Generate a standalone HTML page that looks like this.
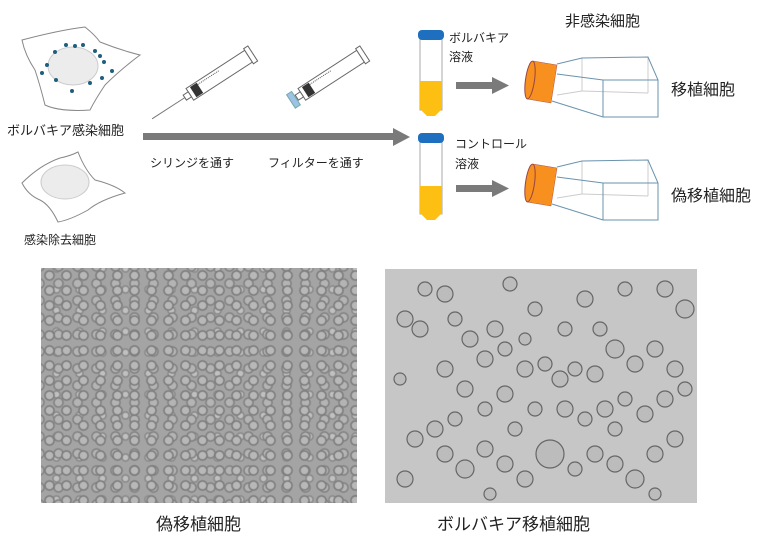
<!DOCTYPE html>
<html><head><meta charset="utf-8"><style>
body{margin:0;width:767px;height:546px;background:#fff;position:relative;overflow:hidden;font-family:"Liberation Sans","Noto Sans CJK JP",sans-serif;color:#222}
.t{position:absolute;white-space:nowrap;line-height:1}
.m1{position:absolute;left:41px;top:268px;width:316px;height:235px;background-color:#a4a4a4;
background-image:radial-gradient(circle at 50% 50%,#b8b8b8 0 3px,#7a7a7a 4.5px,transparent 6px),radial-gradient(circle at 50% 50%,#b4b4b4 0 3px,#808080 4.5px,transparent 6px),radial-gradient(circle at 50% 50%,#c0c0c0 0 2px,#888 3.5px,transparent 5px);
background-size:17px 15px,19px 17px,23px 21px;background-position:0 0,8px 7px,4px 11px}
.m2{position:absolute;left:385px;top:269px;width:312px;height:234px;background:#c6c6c6}
</style></head><body>
<svg width="767" height="546" style="position:absolute;left:0;top:0">
<path d="M22,40 Q60,30 85,27 Q95,35 100,42 Q120,50 140,55 Q120,70 105,85 Q95,100 90,110 Q60,112 45,105 Q40,85 35,70 Q25,55 22,40Z" fill="#fff" stroke="#888" stroke-width="1"/>
<ellipse cx="73" cy="66" rx="25" ry="19" fill="#ececec" stroke="#ccc"/>
<g fill="#1f5f7e"><circle cx="66" cy="45" r="2"/><circle cx="75" cy="46" r="2"/><circle cx="83" cy="45" r="2"/><circle cx="95" cy="51" r="2"/><circle cx="55" cy="52" r="2"/><circle cx="47" cy="65" r="2"/><circle cx="100" cy="56" r="2"/><circle cx="104" cy="62" r="2"/><circle cx="112" cy="71" r="2"/><circle cx="42" cy="73" r="2"/><circle cx="56" cy="80" r="2"/><circle cx="90" cy="83" r="2"/><circle cx="102" cy="78" r="2"/><circle cx="72" cy="91" r="2"/></g>
<path d="M22,183 Q40,165 60,158 Q70,156 78,152 Q85,170 95,180 Q115,185 125,193 Q100,200 88,210 Q70,220 58,222 Q50,205 40,200 Q28,195 22,183Z" fill="#fff" stroke="#888"/>
<ellipse cx="65" cy="182" rx="24" ry="17" fill="#ececec" stroke="#ccc"/>
<rect x="143" y="133" width="253" height="7" fill="#7a7a7a"/><polygon points="393,128 410,137 393,146" fill="#7a7a7a"/>
<g transform="translate(215,78) rotate(-33)"><rect x="-30" y="-7" width="70" height="14" fill="#fff" stroke="#666"/><rect x="-26" y="-6" width="8" height="12" fill="#333"/><rect x="40" y="-9" width="5" height="18" fill="#fff" stroke="#666"/><rect x="-36" y="-3" width="6" height="6" fill="#fff" stroke="#666"/><line x1="-36" y1="0" x2="-75" y2="0" stroke="#777"/><line x1="-18" y1="-4" x2="8" y2="-4" stroke="#555" stroke-dasharray="1 1"/></g>
<g transform="translate(327,78) rotate(-33)"><rect x="-30" y="-7" width="70" height="14" fill="#fff" stroke="#666"/><rect x="-26" y="-6" width="8" height="12" fill="#333"/><rect x="40" y="-9" width="5" height="18" fill="#fff" stroke="#666"/><rect x="-36" y="-3" width="6" height="6" fill="#fff" stroke="#666"/><rect x="-43" y="-8" width="6" height="16" fill="#9cc3e6" stroke="#7aa"/><line x1="-18" y1="-4" x2="8" y2="-4" stroke="#555" stroke-dasharray="1 1"/></g>
<g><rect x="420" y="36" width="22" height="74" fill="#fff" stroke="#aaa"/><rect x="420" y="81" width="22" height="28" fill="#fdbf12"/><polygon points="420,109 442,109 435,116 427,116" fill="#fdbf12"/><rect x="418" y="30" width="26" height="10" rx="4" fill="#1e6fbf"/></g>
<g><rect x="420" y="140" width="22" height="74" fill="#fff" stroke="#aaa"/><rect x="420" y="186" width="22" height="28" fill="#fdbf12"/><polygon points="420,213 442,213 435,220 427,220" fill="#fdbf12"/><rect x="418" y="133" width="26" height="10" rx="4" fill="#1e6fbf"/></g>
<rect x="456" y="82" width="37" height="7" fill="#7a7a7a"/><polygon points="492,77 509,85.5 492,94" fill="#7a7a7a"/>
<rect x="456" y="185" width="37" height="7" fill="#7a7a7a"/><polygon points="492,180 509,188.5 492,197" fill="#7a7a7a"/>
<g id="fl">
<g fill="none" stroke="#ccc" stroke-width="1"><line x1="582" y1="58" x2="582" y2="91"/><line x1="582" y1="91" x2="648" y2="93"/><line x1="648" y1="57" x2="648" y2="93"/><line x1="557" y1="95" x2="582" y2="91"/></g>
<g fill="none" stroke="#6a93ad" stroke-width="1"><polyline points="557,64 582,58 648,57 658,80 658,117 603,117 552,101"/><polyline points="557,74 603,80 658,80"/><line x1="603" y1="80" x2="603" y2="117"/></g>
<polygon points="533,61 557,65 551,103 527,99" fill="#f7901e" stroke="#a55" stroke-width=".5"/><ellipse cx="530" cy="80" rx="4.5" ry="19" transform="rotate(8 530 80)" fill="#f7901e" stroke="#944"/>
</g>
<use href="#fl" transform="translate(0,103)"/>
</svg>
<div class="t" style="left:7px;top:124px;font-size:13px">ボルバキア感染細胞</div>
<div class="t" style="left:24px;top:234px;font-size:12px">感染除去細胞</div>
<div class="t" style="left:150px;top:157px;font-size:12px">シリンジを通す</div>
<div class="t" style="left:268px;top:157px;font-size:12px">フィルターを通す</div>
<div class="t" style="left:449px;top:32px;font-size:12px">ボルバキア</div>
<div class="t" style="left:449px;top:51px;font-size:12px">溶液</div>
<div class="t" style="left:455px;top:138px;font-size:12px">コントロール</div>
<div class="t" style="left:455px;top:158px;font-size:12px">溶液</div>
<div class="t" style="left:565px;top:14px;font-size:15px">非感染細胞</div>
<div class="t" style="left:671px;top:83px;font-size:16px">移植細胞</div>
<div class="t" style="left:671px;top:189px;font-size:16px">偽移植細胞</div>
<div class="m1"></div>
<div class="m2"><svg width="312" height="234"><g fill="#bcbcbc" stroke="#666" stroke-width="1.2">
<circle cx="20" cy="50" r="8"/><circle cx="35" cy="60" r="8"/><circle cx="15" cy="110" r="6"/><circle cx="60" cy="25" r="8"/><circle cx="70" cy="50" r="7"/><circle cx="85" cy="70" r="8"/><circle cx="100" cy="90" r="8"/><circle cx="120" cy="80" r="7"/><circle cx="140" cy="100" r="8"/><circle cx="160" cy="95" r="7"/><circle cx="175" cy="110" r="8"/><circle cx="190" cy="100" r="7"/><circle cx="210" cy="105" r="8"/><circle cx="230" cy="80" r="9"/><circle cx="250" cy="95" r="8"/><circle cx="270" cy="80" r="8"/><circle cx="290" cy="100" r="8"/><circle cx="300" cy="120" r="7"/><circle cx="280" cy="130" r="8"/><circle cx="260" cy="145" r="8"/><circle cx="240" cy="130" r="7"/><circle cx="220" cy="140" r="8"/><circle cx="200" cy="150" r="7"/><circle cx="180" cy="140" r="8"/><circle cx="150" cy="140" r="7"/><circle cx="120" cy="125" r="8"/><circle cx="100" cy="140" r="7"/><circle cx="80" cy="120" r="8"/><circle cx="60" cy="100" r="8"/><circle cx="50" cy="160" r="8"/><circle cx="30" cy="170" r="8"/><circle cx="60" cy="185" r="8"/><circle cx="80" cy="200" r="9"/><circle cx="100" cy="180" r="8"/><circle cx="120" cy="195" r="8"/><circle cx="140" cy="210" r="8"/><circle cx="165" cy="185" r="14"/><circle cx="190" cy="200" r="7"/><circle cx="210" cy="185" r="8"/><circle cx="230" cy="195" r="8"/><circle cx="250" cy="210" r="9"/><circle cx="270" cy="185" r="8"/><circle cx="290" cy="170" r="8"/><circle cx="300" cy="40" r="9"/><circle cx="280" cy="20" r="8"/><circle cx="240" cy="20" r="7"/><circle cx="200" cy="30" r="8"/><circle cx="125" cy="15" r="7"/><circle cx="150" cy="40" r="7"/><circle cx="110" cy="60" r="8"/><circle cx="20" cy="210" r="8"/><circle cx="70" cy="150" r="7"/><circle cx="130" cy="160" r="7"/><circle cx="230" cy="160" r="7"/><circle cx="40" cy="20" r="7"/><circle cx="180" cy="60" r="7"/><circle cx="215" cy="60" r="7"/><circle cx="140" cy="70" r="6"/><circle cx="105" cy="225" r="6"/><circle cx="270" cy="225" r="6"/></g></svg></div>
<div class="t" style="left:156px;top:516px;font-size:17px">偽移植細胞</div>
<div class="t" style="left:437px;top:516px;font-size:17px">ボルバキア移植細胞</div>
</body></html>
